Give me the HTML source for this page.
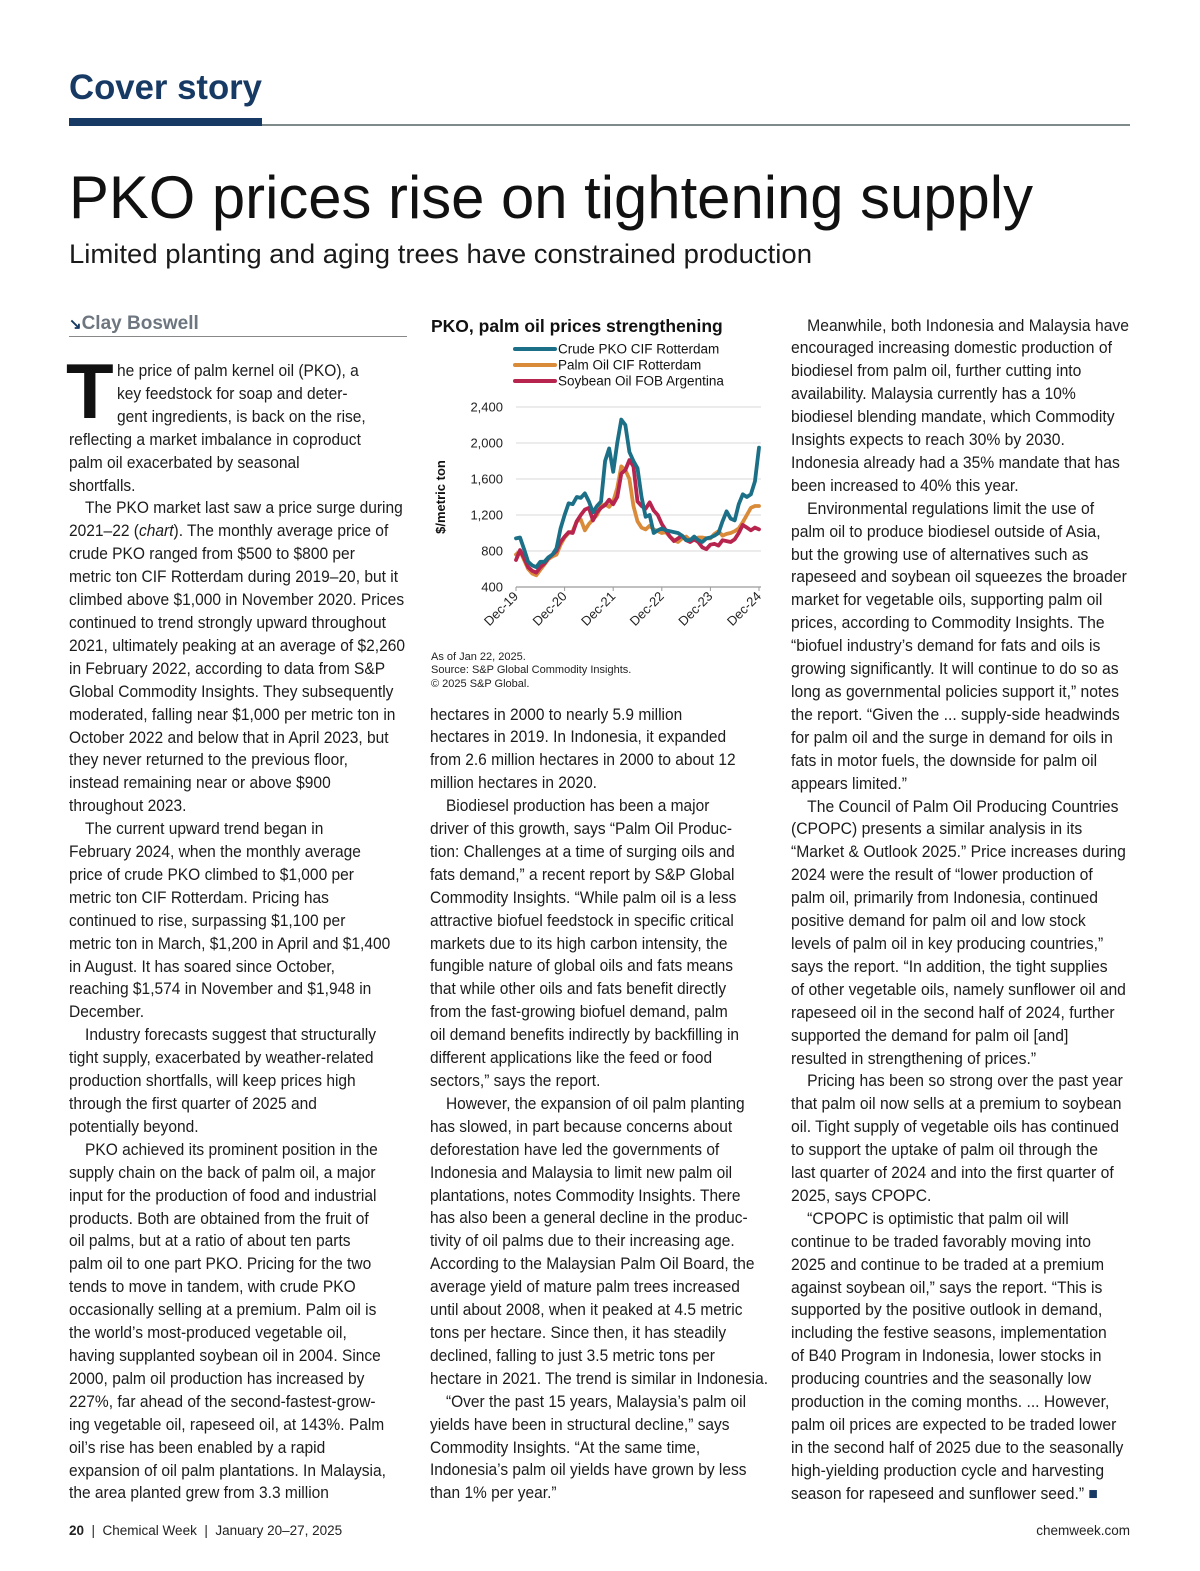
<!DOCTYPE html>
<html><head><meta charset="utf-8">
<style>
html,body{margin:0;padding:0;background:#fff;}
body{width:1200px;height:1571px;position:relative;overflow:hidden;font-family:"Liberation Sans",Arial,sans-serif;color:#1a1a1a;}
.abs{position:absolute;}
.col{position:absolute;font-size:16.5px;line-height:22.9px;white-space:nowrap;transform-origin:0 0;color:#1c1c1c;}
.col .i{padding-left:17px;display:inline-block;}
</style></head>
<body>
<div class="abs fit" data-w="193" style="left:69px;top:68px;font-size:35px;font-weight:bold;color:#173a64;white-space:nowrap;transform-origin:0 0;">Cover story</div>
<div class="abs" style="left:69px;top:118px;width:193px;height:8px;background:#173a64;"></div>
<div class="abs" style="left:262px;top:124px;width:868px;height:2px;background:#7f8a8a;"></div>

<div class="abs fit" data-w="964" style="left:69px;top:163px;font-size:60px;line-height:70px;white-space:nowrap;transform-origin:0 0;color:#111;">PKO prices rise on tightening supply</div>
<div class="abs fit" data-w="743" style="left:69px;top:237px;font-size:27px;line-height:34px;white-space:nowrap;transform-origin:0 0;color:#1a1a1a;">Limited planting and aging trees have constrained production</div>

<div class="abs" style="left:69px;top:313px;font-size:19px;font-weight:bold;color:#6e7680;"><span style="color:#173a64;font-size:15px;">&#x2198;</span>Clay Boswell</div>
<div class="abs" style="left:69px;top:336px;width:338px;height:1px;background:#888;"></div>

<div class="abs" style="left:66px;top:352px;font-size:78px;line-height:78px;font-weight:bold;color:#111;">T</div>

<div class="col" id="colL" data-w="336" style="left:69px;top:360px;">
<span style="padding-left:51px;display:inline-block">he price of palm kernel oil (PKO), a</span><br>
<span style="padding-left:51px;display:inline-block">key feedstock for soap and deter-</span><br>
<span style="padding-left:51px;display:inline-block">gent ingredients, is back on the rise,</span><br>
reflecting a market imbalance in coproduct<br>
palm oil exacerbated by seasonal<br>
shortfalls.<br>
<span class="i">The PKO market last saw a price surge during</span><br>
2021–22 (<i>chart</i>). The monthly average price of<br>
crude PKO ranged from $500 to $800 per<br>
metric ton CIF Rotterdam during 2019–20, but it<br>
climbed above $1,000 in November 2020. Prices<br>
continued to trend strongly upward throughout<br>
2021, ultimately peaking at an average of $2,260<br>
in February 2022, according to data from S&amp;P<br>
Global Commodity Insights. They subsequently<br>
moderated, falling near $1,000 per metric ton in<br>
October 2022 and below that in April 2023, but<br>
they never returned to the previous floor,<br>
instead remaining near or above $900<br>
throughout 2023.<br>
<span class="i">The current upward trend began in</span><br>
February 2024, when the monthly average<br>
price of crude PKO climbed to $1,000 per<br>
metric ton CIF Rotterdam. Pricing has<br>
continued to rise, surpassing $1,100 per<br>
metric ton in March, $1,200 in April and $1,400<br>
in August. It has soared since October,<br>
reaching $1,574 in November and $1,948 in<br>
December.<br>
<span class="i">Industry forecasts suggest that structurally</span><br>
tight supply, exacerbated by weather-related<br>
production shortfalls, will keep prices high<br>
through the first quarter of 2025 and<br>
potentially beyond.<br>
<span class="i">PKO achieved its prominent position in the</span><br>
supply chain on the back of palm oil, a major<br>
input for the production of food and industrial<br>
products. Both are obtained from the fruit of<br>
oil palms, but at a ratio of about ten parts<br>
palm oil to one part PKO. Pricing for the two<br>
tends to move in tandem, with crude PKO<br>
occasionally selling at a premium. Palm oil is<br>
the world’s most-produced vegetable oil,<br>
having supplanted soybean oil in 2004. Since<br>
2000, palm oil production has increased by<br>
227%, far ahead of the second-fastest-grow-<br>
ing vegetable oil, rapeseed oil, at 143%. Palm<br>
oil’s rise has been enabled by a rapid<br>
expansion of oil palm plantations. In Malaysia,<br>
the area planted grew from 3.3 million
</div>

<div class="col" id="colM" data-w="338" style="left:430px;top:703.5px;">
hectares in 2000 to nearly 5.9 million<br>
hectares in 2019. In Indonesia, it expanded<br>
from 2.6 million hectares in 2000 to about 12<br>
million hectares in 2020.<br>
<span class="i">Biodiesel production has been a major</span><br>
driver of this growth, says “Palm Oil Produc-<br>
tion: Challenges at a time of surging oils and<br>
fats demand,” a recent report by S&amp;P Global<br>
Commodity Insights. “While palm oil is a less<br>
attractive biofuel feedstock in specific critical<br>
markets due to its high carbon intensity, the<br>
fungible nature of global oils and fats means<br>
that while other oils and fats benefit directly<br>
from the fast-growing biofuel demand, palm<br>
oil demand benefits indirectly by backfilling in<br>
different applications like the feed or food<br>
sectors,” says the report.<br>
<span class="i">However, the expansion of oil palm planting</span><br>
has slowed, in part because concerns about<br>
deforestation have led the governments of<br>
Indonesia and Malaysia to limit new palm oil<br>
plantations, notes Commodity Insights. There<br>
has also been a general decline in the produc-<br>
tivity of oil palms due to their increasing age.<br>
According to the Malaysian Palm Oil Board, the<br>
average yield of mature palm trees increased<br>
until about 2008, when it peaked at 4.5 metric<br>
tons per hectare. Since then, it has steadily<br>
declined, falling to just 3.5 metric tons per<br>
hectare in 2021. The trend is similar in Indonesia.<br>
<span class="i">“Over the past 15 years, Malaysia’s palm oil</span><br>
yields have been in structural decline,” says<br>
Commodity Insights. “At the same time,<br>
Indonesia’s palm oil yields have grown by less<br>
than 1% per year.”
</div>

<div class="col" id="colR" data-w="338" style="left:791px;top:314.5px;">
<span class="i">Meanwhile, both Indonesia and Malaysia have</span><br>
encouraged increasing domestic production of<br>
biodiesel from palm oil, further cutting into<br>
availability. Malaysia currently has a 10%<br>
biodiesel blending mandate, which Commodity<br>
Insights expects to reach 30% by 2030.<br>
Indonesia already had a 35% mandate that has<br>
been increased to 40% this year.<br>
<span class="i">Environmental regulations limit the use of</span><br>
palm oil to produce biodiesel outside of Asia,<br>
but the growing use of alternatives such as<br>
rapeseed and soybean oil squeezes the broader<br>
market for vegetable oils, supporting palm oil<br>
prices, according to Commodity Insights. The<br>
“biofuel industry’s demand for fats and oils is<br>
growing significantly. It will continue to do so as<br>
long as governmental policies support it,” notes<br>
the report. “Given the ... supply-side headwinds<br>
for palm oil and the surge in demand for oils in<br>
fats in motor fuels, the downside for palm oil<br>
appears limited.”<br>
<span class="i">The Council of Palm Oil Producing Countries</span><br>
(CPOPC) presents a similar analysis in its<br>
“Market &amp; Outlook 2025.” Price increases during<br>
2024 were the result of “lower production of<br>
palm oil, primarily from Indonesia, continued<br>
positive demand for palm oil and low stock<br>
levels of palm oil in key producing countries,”<br>
says the report. “In addition, the tight supplies<br>
of other vegetable oils, namely sunflower oil and<br>
rapeseed oil in the second half of 2024, further<br>
supported the demand for palm oil [and]<br>
resulted in strengthening of prices.”<br>
<span class="i">Pricing has been so strong over the past year</span><br>
that palm oil now sells at a premium to soybean<br>
oil. Tight supply of vegetable oils has continued<br>
to support the uptake of palm oil through the<br>
last quarter of 2024 and into the first quarter of<br>
2025, says CPOPC.<br>
<span class="i">“CPOPC is optimistic that palm oil will</span><br>
continue to be traded favorably moving into<br>
2025 and continue to be traded at a premium<br>
against soybean oil,” says the report. “This is<br>
supported by the positive outlook in demand,<br>
including the festive seasons, implementation<br>
of B40 Program in Indonesia, lower stocks in<br>
producing countries and the seasonally low<br>
production in the coming months. ... However,<br>
palm oil prices are expected to be traded lower<br>
in the second half of 2025 due to the seasonally<br>
high-yielding production cycle and harvesting<br>
season for rapeseed and sunflower seed.” <span style="color:#173a64">■</span>
</div>

<svg id="chart" class="abs" style="left:425px;top:310px;" width="345" height="390" viewBox="0 0 345 390" font-family="Liberation Sans, Arial, sans-serif">
<text x="6" y="22" font-size="17.5" font-weight="bold" fill="#111">PKO, palm oil prices strengthening</text>
<g id="legend"></g>
<g id="grid"></g>
<g id="ylab"></g>
<g id="xlab"></g>
<g id="series"></g>
<text transform="translate(20,187) rotate(-90)" text-anchor="middle" font-size="13" font-weight="bold" fill="#111">$/metric ton</text>
<text x="6" y="350" font-size="11" fill="#222">As of Jan 22, 2025.</text>
<text x="6" y="363" font-size="11" fill="#222">Source: S&amp;P Global Commodity Insights.</text>
<text x="6" y="377" font-size="11" fill="#222">© 2025 S&amp;P Global.</text>
</svg>

<div class="abs" style="left:69px;top:1523px;font-size:13.5px;color:#222;"><b>20</b> &nbsp;|&nbsp; Chemical Week &nbsp;|&nbsp; January 20–27, 2025</div>
<div class="abs" style="right:70px;top:1523px;font-size:13.5px;color:#222;">chemweek.com</div>

<script>
const xTicks = ["Dec-19","Dec-20","Dec-21","Dec-22","Dec-23","Dec-24"];
const yTicks = [400,800,1200,1600,2000,2400];
const seriesNames = ["Crude PKO CIF Rotterdam","Palm Oil CIF Rotterdam","Soybean Oil FOB Argentina"];
const seriesColors = ["#1b6f86","#d98b3a","#b7254f"];
const pko = [940,950,820,680,640,620,680,680,730,760,830,1050,1200,1330,1320,1400,1390,1440,1350,1230,1300,1350,1800,1940,1680,2000,2260,2200,1900,1800,1720,1400,1180,1200,1000,1030,1050,1030,1020,1010,1000,970,920,920,960,920,900,940,950,970,1000,1130,1240,1160,1140,1320,1430,1400,1430,1574,1948];
const palm = [760,800,700,600,550,530,590,650,710,740,760,870,950,1000,1020,1130,1150,1030,1100,1150,1200,1300,1320,1290,1350,1500,1740,1700,1600,1300,1130,1060,1040,1080,1040,1020,1000,1010,960,920,900,940,960,920,920,950,950,940,940,990,1020,970,990,1000,1020,1050,1120,1200,1280,1300,1300];
const soy = [700,810,720,620,580,560,620,660,720,760,800,900,960,1010,1000,1130,1200,1260,1280,1140,1230,1280,1310,1370,1320,1400,1660,1700,1810,1740,1350,1300,1270,1340,1250,1200,1100,1030,960,910,940,970,920,900,930,900,840,820,870,880,860,920,910,900,930,1000,1090,1060,1030,1060,1040];
const allSeries = [pko, palm, soy];

const NS = "http://www.w3.org/2000/svg";
const X0 = 91, X1 = 334, Y0 = 277, Y1 = 97;
const nMonths = (xTicks.length - 1) * 12;
const xScale = i => X0 + (X1 - X0) * i / nMonths;
const yScale = v => Y0 - (Y0 - Y1) * (v - yTicks[0]) / (yTicks[yTicks.length-1] - yTicks[0]);
function mk(tag, attrs, parent){const e=document.createElementNS(NS,tag);for(const k in attrs)e.setAttribute(k,attrs[k]);parent.appendChild(e);return e;}

const grid = document.getElementById('grid');
const ylab = document.getElementById('ylab');
yTicks.forEach((t,i)=>{
  const y = yScale(t);
  const ln = mk('line',{x1:X0,x2:X1+2,y1:y,y2:y,stroke:i===0?'#9a9a9a':'#d9d9d9','stroke-width':i===0?1.2:1},grid);
  
  
  const tx = mk('text',{x:78,y:y+4.5,'text-anchor':'end','font-size':13,fill:'#222'},ylab);
  tx.textContent = t.toLocaleString('en-US');
  
  
});
const xlab = document.getElementById('xlab');
xTicks.forEach((t,i)=>{
  const x = xScale(i*12);
  const tk = mk('line',{x1:x,x2:x,y1:Y0,y2:Y0+4,stroke:'#9a9a9a'},grid);
  
  
  const tx = mk('text',{transform:`translate(${x+3},${Y0+10}) rotate(-45)`,'text-anchor':'end','font-size':13,fill:'#222'},xlab);
  tx.textContent = t;
  
  
});
const sg = document.getElementById('series');
[1,2,0].forEach(si=>{
  const d = allSeries[si].map((v,i)=>(i?'L':'M')+xScale(i).toFixed(2)+','+yScale(v).toFixed(2)).join('');
  const p = mk('path',{d:d,fill:'none',stroke:seriesColors[si],'stroke-width':3.8,'stroke-linejoin':'round','stroke-linecap':'round'},sg);
  
  
});
const lg = document.getElementById('legend');
seriesNames.forEach((n,i)=>{
  const y = 39 + i*16;
  const l = mk('line',{x1:90,x2:130,y1:y,y2:y,stroke:seriesColors[i],'stroke-width':4,'stroke-linecap':'round'},lg);
  
  
  const t = mk('text',{x:133,y:y+4.5,'font-size':13.5,fill:'#111'},lg);
  t.textContent = n;
  
  
});

document.querySelectorAll('.fit').forEach(el=>{
  const w = el.getBoundingClientRect().width; const tw = +el.dataset.w;
  if(w>0) el.style.transform = `scaleX(${tw/w})`;
});
document.querySelectorAll('.col').forEach(el=>{
  el.style.display='inline-block';
  const w = el.getBoundingClientRect().width; const tw = +el.dataset.w;
  if(w>0) el.style.transform = `scaleX(${tw/w})`;
});
</script>
</body></html>
